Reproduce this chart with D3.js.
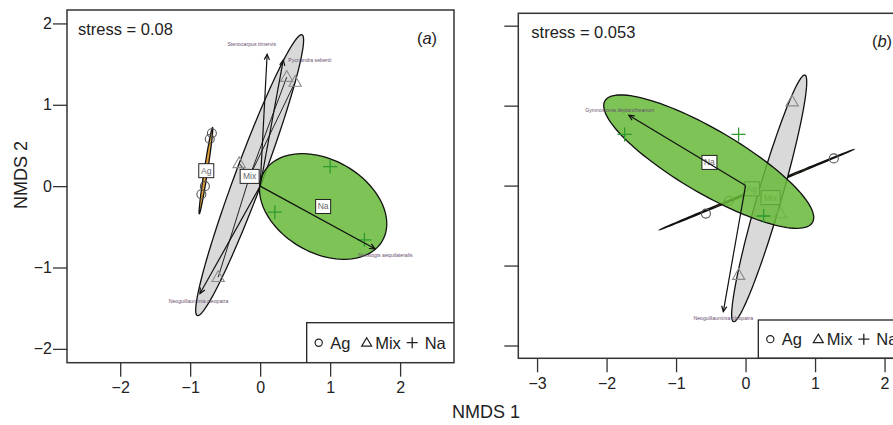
<!DOCTYPE html>
<html><head><meta charset="utf-8">
<script src="https://cdn.jsdelivr.net/npm/d3@7"></script>
<style>body{margin:0;background:#fff}svg{display:block;font-family:"Liberation Sans",Arial,Helvetica,sans-serif}</style>
</head><body><svg id="c" width="893" height="425"></svg>
<script>
// ---------- data ----------
const groups = ["Ag", "Mix", "Na"];
const xTicksA = [-2, -1, 0, 1, 2];
const yTicksA = [-2, -1, 0, 1, 2];
const xTicksB = [-3, -2, -1, 0, 1, 2];
const yTicksB = [-2, -1, 0, 1, 2];
const stressA = "stress = 0.08";
const stressB = "stress = 0.053";
const xTitle = "NMDS 1";
const yTitle = "NMDS 2";

// Panel (a) site scores
const agA  = [[-0.69, 0.65], [-0.72, 0.58], [-0.79, 0.00], [-0.84, -0.10]];
const mixA = [[0.38, 1.34], [0.50, 1.28], [-0.30, 0.28], [-0.60, -1.12]];
const naA  = [[1.00, 0.24], [0.21, -0.32], [1.49, -0.66]];
const centA = [[-0.77, 0.19], [-0.15, 0.12], [0.90, -0.25]];
// ellipses: centre, first and second conjugate semi-axis vectors
const ellA = [
  {c: [-0.775, 0.19], u: [0.095, 0.53], v: [0.024, -0.0035]},
  {c: [-0.15, 0.135], u: [0.75, 1.725], v: [-0.179, 0.078]},
  {c: [0.90, -0.25], u: [0.847, -0.421], v: [-0.331, -0.494]}
];
const speciesA = ["Stenocarpus trinervis", "Pycnandra sebertii", "Nessiogis aequilateralis", "Neoguillauminia cleopatra"];
const vecA = [[0.10, 1.62], [0.33, 1.55], [1.64, -0.77], [-0.86, -1.32]];
const vecLabA = [[-0.12, 1.75], [0.71, 1.55], [1.79, -0.85], [-0.88, -1.41]];

// Panel (b) site scores
const agB  = [[1.27, 0.34], [-0.24, -0.19], [-0.57, -0.35]];
const mixB = [[0.67, 1.05], [0.50, -0.35], [-0.10, -1.12]];
const naB  = [[-1.74, 0.64], [-0.10, 0.64], [0.26, -0.38]];
const centB = [[0.09, -0.04], [0.36, -0.15], [-0.52, 0.29]];
const ellB = [
  {c: [0.16, -0.05], u: [1.39, 0.50], v: [-0.004, 0.009]},
  {c: [0.34, -0.16], u: [0.514, 1.542], v: [0.166, -0.042]},
  {c: [-0.53, 0.30], u: [1.493, -0.761], v: [-0.231, -0.342]}
];
const speciesB = ["Gymnostoma deplancheanum", "Neoguillauminia cleopatra"];
const vecB = [[-1.68, 0.88], [-0.32, -1.575]];
const vecLabB = [[-1.81, 0.95], [-0.32, -1.65]];

// ---------- drawing ----------
const svg = d3.select("#c");
const ellColors = [
  {fill: "#e2a43a", op: 1},
  {fill: "#d9d9d9", op: 1},
  {fill: "#66b837", op: 0.85}
];
const symCol = {Ag: "#555", Mix: "#8c8c8c", Na: "#2f9a2f"};

function fmt(d){ return d < 0 ? "\u2212" + Math.abs(d) : String(d); }

function panel(o){
  const g = svg.append("g");
  const x = d3.scaleLinear().domain(o.xd).range(o.xr);
  const y = d3.scaleLinear().domain(o.yd).range(o.yr);
  const clipId = "clip" + o.id;
  g.append("clipPath").attr("id", clipId).append("rect")
    .attr("x", o.xr[0]).attr("y", o.yr[1]).attr("width", o.xr[1]-o.xr[0]).attr("height", o.yr[0]-o.yr[1]);
  const p = g.append("g").attr("clip-path", "url(#" + clipId + ")");

  const ellPath = e => {
    const pts = d3.range(0, 121).map(i => {
      const t = i / 120 * 2 * Math.PI;
      return [x(e.c[0] + e.u[0]*Math.cos(t) + e.v[0]*Math.sin(t)),
              y(e.c[1] + e.u[1]*Math.cos(t) + e.v[1]*Math.sin(t))];
    });
    return d3.line()(pts) + "Z";
  };
  const drawEll = i => p.append("path").attr("d", ellPath(o.ell[i]))
      .attr("fill", ellColors[i].fill).attr("fill-opacity", ellColors[i].op)
      .attr("stroke", "#111").attr("stroke-width", 1.3);
  const drawLab = i => {
    const [cx, cy] = [x(o.cent[i][0]), y(o.cent[i][1])];
    const w = groups[i] === "Mix" ? 19 : 15;
    p.append("rect").attr("x", cx - w/2).attr("y", cy - 7).attr("width", w).attr("height", 14)
      .attr("fill", "#fff").attr("stroke", "#222").attr("stroke-width", 1);
    p.append("text").attr("x", cx).attr("y", cy + 3).attr("text-anchor", "middle")
      .attr("font-size", 8.5).attr("fill", "#666").text(groups[i]);
  };
  const circles = pts => p.selectAll(null).data(pts).enter().append("circle")
      .attr("cx", d => x(d[0])).attr("cy", d => y(d[1])).attr("r", 4.5)
      .attr("fill", "none").attr("stroke", symCol.Ag).attr("stroke-width", 1.1);
  const tris = pts => p.selectAll(null).data(pts).enter().append("path")
      .attr("d", d => { const cx = x(d[0]), cy = y(d[1]), s = 6.5;
        return `M${cx},${cy-s}L${cx+s*0.95},${cy+s*0.65}L${cx-s*0.95},${cy+s*0.65}Z`; })
      .attr("fill", "none").attr("stroke", symCol.Mix).attr("stroke-width", 1.1);
  const pluses = pts => p.selectAll(null).data(pts).enter().append("path")
      .attr("d", d => { const cx = x(d[0]), cy = y(d[1]), s = 7;
        return `M${cx-s},${cy}H${cx+s}M${cx},${cy-s}V${cy+s}`; })
      .attr("stroke", symCol.Na).attr("stroke-width", 1.3);

  drawEll(0);
  drawEll(1);
  if (o.spider){
    p.selectAll(null).data(o.mix).enter().append("line")
      .attr("x1", x(o.cent[1][0])).attr("y1", y(o.cent[1][1]))
      .attr("x2", d => x(d[0])).attr("y2", d => y(d[1]))
      .attr("stroke", "#222").attr("stroke-width", 1);
  }
  circles(o.ag);
  tris(o.mix);
  drawLab(0);
  drawLab(1);
  drawEll(2);
  pluses(o.na);
  drawLab(2);

  o.vec.forEach((v, i) => {
    const x0 = x(0), y0 = y(0), x1 = x(v[0]), y1 = y(v[1]);
    const a = Math.atan2(y1 - y0, x1 - x0), L = 6, h = 0.45;
    p.append("line").attr("x1", x0).attr("y1", y0).attr("x2", x1).attr("y2", y1)
      .attr("stroke", "#111").attr("stroke-width", 1.2);
    p.append("path")
      .attr("d", `M${x1 - L*Math.cos(a - h)},${y1 - L*Math.sin(a - h)}L${x1},${y1}L${x1 - L*Math.cos(a + h)},${y1 - L*Math.sin(a + h)}`)
      .attr("fill", "none").attr("stroke", "#111").attr("stroke-width", 1.2);
    p.append("text").attr("x", x(o.vecLab[i][0])).attr("y", y(o.vecLab[i][1]) + 2)
      .attr("text-anchor", "middle").attr("font-size", 5.2).attr("fill", "#6a4f6f")
      .text(o.species[i]);
  });

  g.append("text").attr("x", o.xr[0] + o.stressDx).attr("y", o.yr[1] + 25)
    .attr("font-size", 16.5).attr("fill", "#222").text(o.stress);
  const lt = g.append("text").attr("x", o.letterX).attr("y", o.yr[1] + 34)
    .attr("text-anchor", "middle").attr("font-size", 16.5).attr("fill", "#222");
  lt.append("tspan").text("(");
  lt.append("tspan").attr("font-style", "italic").text(o.letter);
  lt.append("tspan").text(")");

  const lx = o.legX, ly0 = o.legY, ly1 = o.yr[0];
  const lg = g.append("g").attr("clip-path", "url(#" + clipId + ")");
  lg.append("rect").attr("x", lx).attr("y", ly0).attr("width", o.xr[1] - lx + 5).attr("height", ly1 - ly0)
    .attr("fill", "#fff").attr("stroke", "#222").attr("stroke-width", 1.3);
  const cy = (ly0 + ly1) / 2;
  lg.append("circle").attr("cx", lx + 12).attr("cy", cy).attr("r", 3.6)
    .attr("fill", "none").attr("stroke", "#222").attr("stroke-width", 1.2);
  lg.append("path").attr("d", `M${lx+60},${cy-5}L${lx+65},${cy+3.5}L${lx+55},${cy+3.5}Z`)
    .attr("fill", "none").attr("stroke", "#222").attr("stroke-width", 1.2);
  lg.append("path").attr("d", `M${lx+100},${cy}H${lx+111}M${lx+105.5},${cy-5.5}V${cy+5.5}`)
    .attr("stroke", "#222").attr("stroke-width", 1.3);
  [["Ag", 23.5], ["Mix", 68.5], ["Na", 118]].forEach(([t, dx]) =>
    lg.append("text").attr("x", lx + dx).attr("y", cy + 6).attr("font-size", 16.5).attr("fill", "#222").text(t));

  g.append("rect").attr("x", o.xr[0]).attr("y", o.yr[1]).attr("width", o.xr[1]-o.xr[0]).attr("height", o.yr[0]-o.yr[1])
    .attr("fill", "none").attr("stroke", "#333").attr("stroke-width", 1.5);

  const xa = g.append("g").attr("transform", `translate(0,${o.yr[0]})`)
    .call(d3.axisBottom(x).tickValues(o.xt).tickSize(14).tickPadding(5).tickFormat(fmt));
  const ya = g.append("g").attr("transform", `translate(${o.xr[0]},0)`)
    .call(d3.axisLeft(y).tickValues(o.yt).tickSize(14).tickPadding(1).tickFormat(o.yLabels ? fmt : ""));
  [xa, ya].forEach(a => {
    a.select(".domain").remove();
    a.selectAll("line").attr("stroke", "#333").attr("stroke-width", 1.3);
    a.selectAll("text").attr("font-size", 16).attr("fill", "#222")
      .attr("font-family", "\"Liberation Sans\",Arial,sans-serif");
  });
}

panel({id: "a", xd: [-2.76, 2.77], xr: [67, 454], yd: [-2.17, 2.165], yr: [362.7, 10],
  xt: xTicksA, yt: yTicksA, yLabels: true,
  ag: agA, mix: mixA, na: naA, cent: centA, ell: ellA, spider: true,
  vec: vecA, vecLab: vecLabA, species: speciesA,
  stress: stressA, stressDx: 11, letter: "a", letterX: 427, legX: 306.7, legY: 322.7});

panel({id: "b", xd: [-3.27, 2.3], xr: [518.3, 905.4], yd: [-2.16, 2.155], yr: [358.3, 13.3],
  xt: xTicksB, yt: yTicksB, yLabels: false,
  ag: agB, mix: mixB, na: naB, cent: centB, ell: ellB, spider: false,
  vec: vecB, vecLab: vecLabB, species: speciesB,
  stress: stressB, stressDx: 13, letter: "b", letterX: 882, legX: 758.3, legY: 320});

svg.append("text").attr("x", 486).attr("y", 418).attr("text-anchor", "middle")
  .attr("font-size", 18).attr("fill", "#222").text(xTitle);
svg.append("text").attr("transform", "translate(27,175) rotate(-90)").attr("text-anchor", "middle")
  .attr("font-size", 18).attr("fill", "#222").text(yTitle);
</script></body></html>
